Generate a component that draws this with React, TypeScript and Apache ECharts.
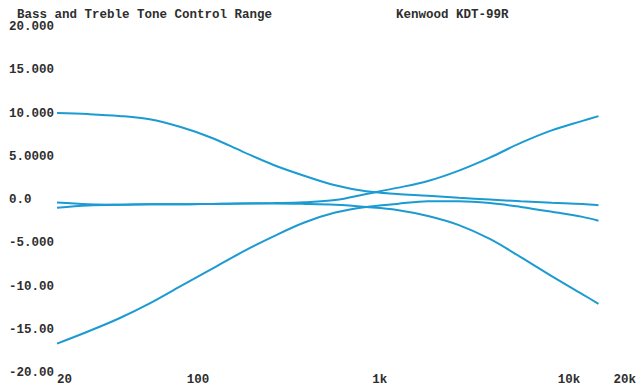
import React, { useEffect, useRef } from "react";
import * as echarts from "echarts";

// Frequencies (Hz) at which the curves were read (about 1/6 decade apart)
const freqs = [20, 29.4, 43.1, 63.2, 92.8, 136, 200, 294, 431, 632, 928, 1362, 2000, 2935, 4308, 6323, 9283, 13620, 16600];

// Response (dB) of each tone-control setting
const bassBoost = [10.05, 9.93, 9.72, 9.33, 8.43, 7.2, 5.6, 4.05, 2.8, 1.7, 1.0, 0.7, 0.5, 0.25, 0.05, -0.15, -0.32, -0.47, -0.6];
const bassCut = [-16.6, -15.2, -13.7, -11.95, -9.95, -8.0, -6.0, -4.2, -2.6, -1.45, -0.8, -0.45, -0.15, -0.15, -0.35, -0.8, -1.35, -1.95, -2.4];
const trebleBoost = [-0.3, -0.5, -0.55, -0.5, -0.5, -0.45, -0.4, -0.35, -0.25, 0.0, 0.7, 1.4, 2.2, 3.4, 4.9, 6.6, 8.05, 9.15, 9.7];
const trebleCut = [-0.9, -0.65, -0.55, -0.5, -0.5, -0.45, -0.4, -0.4, -0.45, -0.55, -0.8, -1.15, -1.85, -2.9, -4.5, -6.6, -8.8, -10.9, -12.0];

// Tick labels
const xTickValues = [20, 100, 1000, 10000, 20000];
const xTickLabels = ["20", "100", "1k", "10k", "20k"];
const yTickValues = [-20, -15, -10, -5, 0, 5, 10, 15, 20];
const yTickLabels = ["-20.00", "-15.00", "-10.00", "-5.000", "0.0", "5.0000", "10.000", "15.000", "20.000"];

const titleText = "Bass and Treble Tone Control Range";
const subtitleText = "Kenwood KDT-99R";

const FONT = "'Liberation Mono', 'DejaVu Sans Mono', monospace";
const TEXT_COLOR = "#2e2e2e";
const LINE_COLOR = "#1b9bd1";

function nearestLabel(v: number, values: number[], labels: string[], log: boolean) {
  let best = 0;
  let bestD = Infinity;
  values.forEach((t, i) => {
    const d = log ? Math.abs(Math.log10(t) - Math.log10(v)) : Math.abs(t - v);
    if (d < bestD) {
      bestD = d;
      best = i;
    }
  });
  return labels[best];
}

export default function App() {
  const ref = useRef<HTMLDivElement>(null);

  useEffect(() => {
    if (!ref.current) return;
    const chart = echarts.init(ref.current, null, { renderer: "svg" });
    const curves = [bassBoost, bassCut, trebleBoost, trebleCut];
    const titleStyle = { fontFamily: FONT, fontSize: 12.5, fontWeight: "bold", color: TEXT_COLOR, lineHeight: 11 };
    chart.setOption({
      animation: false,
      backgroundColor: "#ffffff",
      title: [
        { text: titleText, left: 17, top: 9, padding: 0, textStyle: titleStyle },
        { text: subtitleText, left: 396, top: 9, padding: 0, textStyle: titleStyle },
      ],
      grid: { left: 57, right: 19, top: 27, bottom: 10, containLabel: false },
      xAxis: {
        type: "log",
        logBase: 10,
        min: 20,
        max: 20000,
        axisLine: { show: false },
        axisTick: { show: false },
        splitLine: { show: false },
        axisLabel: {
          show: true,
          showMinLabel: true,
          showMaxLabel: true,
          hideOverlap: false,
          align: "left",
          margin: 0,
          fontFamily: FONT,
          fontSize: 12.5,
          fontWeight: "bold",
          color: TEXT_COLOR,
          formatter: (v: number) => nearestLabel(v, xTickValues, xTickLabels, true),
        },
      },
      yAxis: {
        type: "value",
        min: -20,
        max: 20,
        interval: 5,
        axisLine: { show: false },
        axisTick: { show: false },
        splitLine: { show: false },
        axisLabel: {
          align: "left",
          margin: 48,
          lineHeight: 11,
          padding: [3, 0, 0, 0],
          fontFamily: FONT,
          fontSize: 12.5,
          fontWeight: "bold",
          color: TEXT_COLOR,
          formatter: (v: number) => nearestLabel(v, yTickValues, yTickLabels, false),
        },
      },
      series: curves.map((c) => ({
        type: "line",
        data: freqs.map((f, i) => [f, c[i]]),
        showSymbol: false,
        smooth: 0.35,
        lineStyle: { color: LINE_COLOR, width: 2 },
        itemStyle: { color: LINE_COLOR },
        silent: true,
      })),
    });
    return () => chart.dispose();
  }, []);

  return (
    <div
      ref={ref}
      style={{ position: "fixed", left: 0, top: 0, width: 639, height: 386, background: "#fff" }}
    />
  );
}
